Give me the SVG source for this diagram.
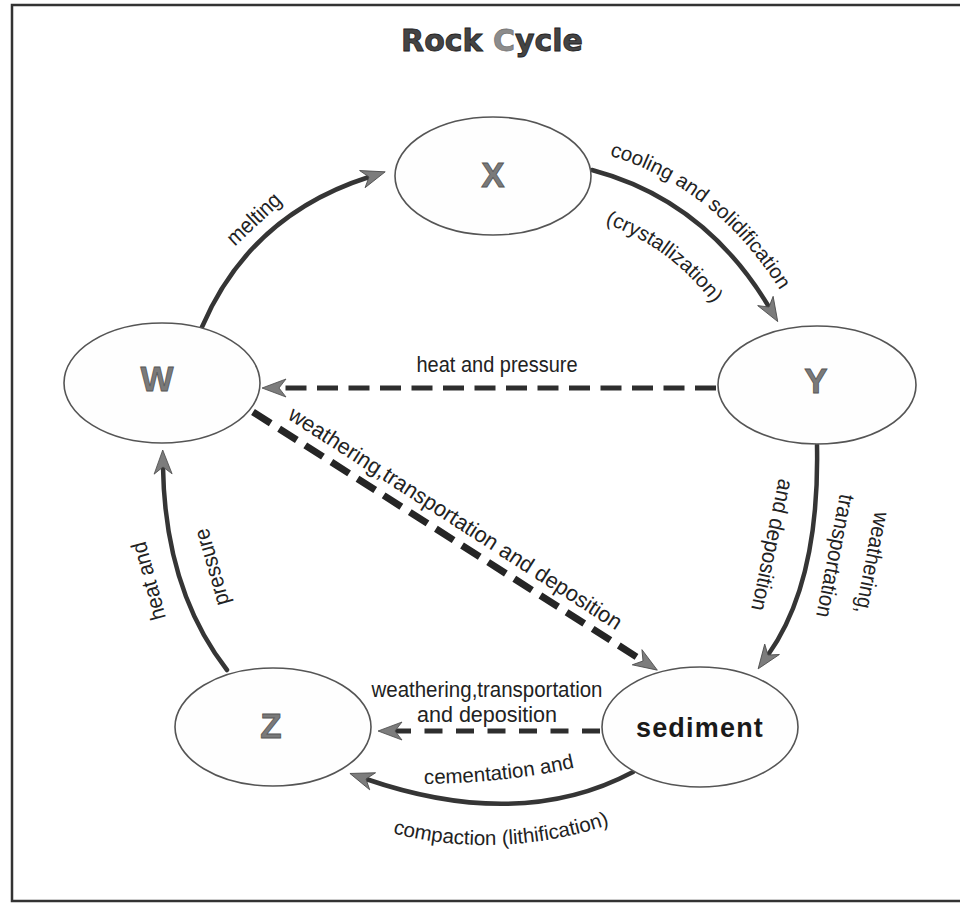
<svg xmlns="http://www.w3.org/2000/svg" width="960" height="903" viewBox="0 0 960 903">
<style>
  .lbl { font-family: "Liberation Sans", Arial, sans-serif; font-size: 22px; fill: #222; }
  .tp { font-family: "Liberation Sans", Arial, sans-serif; font-size: 20.5px; fill: #222; }
  .node { fill: #fefefe; stroke: #555; stroke-width: 1.6; }
  .nl { font-family: "Liberation Sans", Arial, sans-serif; font-weight: bold; font-size: 35px; fill: #7a7a7a; stroke: #555; stroke-width: 0.8; text-anchor: middle; }
  .solid { fill: none; stroke: #353535; stroke-width: 4.5; stroke-linecap: round; marker-end: url(#ah); }
  .dash { fill: none; stroke: #2e2e2e; stroke-width: 5; marker-end: url(#ah); }
  .dashd { fill: none; stroke: #252525; stroke-width: 7; stroke-dasharray: 21 10; marker-end: url(#ah); }
</style>
<defs>
  <marker id="ah" markerUnits="userSpaceOnUse" markerWidth="26" markerHeight="20" refX="7" refY="9" orient="auto" overflow="visible">
    <path d="M0,0 L24,9 L0,18 L7,9 Z" fill="#7c7c7c" stroke="#4a4a4a" stroke-width="0.8"/>
  </marker>
  <path id="tpCool" d="M597,152 Q717,183 786,300"/>
  <path id="tpCrys" d="M580,216 Q682,241 736,339"/>
  <path id="tpCem" d="M424,784 Q510,783 582,766"/>
  <path id="tpComp" d="M388,832 Q500,862 614,823"/>
</defs>
<rect width="960" height="903" fill="#ffffff"/>
<path d="M960,5 L12,5 L12,901 L960,901" fill="none" stroke="#333" stroke-width="2.5"/>

<text x="492" y="51" text-anchor="middle" font-family="DejaVu Sans, Liberation Sans, sans-serif" font-weight="bold" font-size="30" fill="#444" stroke="#222" stroke-width="0.8">Rock <tspan fill="#8c8c8c" stroke="#777">C</tspan>ycle</text>

<g id="connectors">
  <path id="c-melting" class="solid" d="M202,327 Q250,215 369,177"/>
  <path id="c-cooling" class="solid" d="M592,170 Q705,200 769,307"/>
  <path id="c-y-sed" class="solid" d="M817,445 C819,545 800,610 768,655"/>
  <path id="c-cement" class="solid" d="M633,772 Q520,832 366,779"/>
  <path id="c-z-w" class="solid" d="M227,670 Q165,590 163,467"/>
  <path id="c-y-w" class="dash" stroke-dasharray="21 10.5" d="M716,388 L279,388"/>
  <path id="c-w-sed" class="dashd" d="M253,412 L643,661"/>
  <path id="c-sed-z" class="dash" stroke-dasharray="18 13.5" d="M600,731 L395,731"/>
</g>

<g id="node-x">
  <ellipse class="node" cx="493" cy="176" rx="98" ry="59"/>
  <text class="nl" x="493" y="187">X</text>
</g>
<g id="node-w">
  <ellipse class="node" cx="162" cy="383" rx="98" ry="60"/>
  <text class="nl" x="157" y="391">W</text>
</g>
<g id="node-y">
  <ellipse class="node" cx="817" cy="385" rx="99" ry="59"/>
  <text class="nl" x="816" y="393">Y</text>
</g>
<g id="node-z">
  <ellipse class="node" cx="273" cy="727" rx="98" ry="59"/>
  <text class="nl" x="271" y="738">Z</text>
</g>
<g id="node-sediment">
  <ellipse class="node" cx="700" cy="727" rx="98" ry="60"/>
  <text x="700" y="737" text-anchor="middle" font-family="Liberation Sans, Arial, sans-serif" font-weight="bold" font-size="27" letter-spacing="1.2" fill="#1a1a1a">sediment</text>
</g>

<g id="labels">
  <text class="lbl" transform="translate(254,219) rotate(-43)" text-anchor="middle" dy="7" textLength="66" lengthAdjust="spacingAndGlyphs">melting</text>
  <text class="tp"><textPath href="#tpCool" startOffset="13">cooling and solidification</textPath></text>
  <text class="tp"><textPath href="#tpCrys" startOffset="26">(crystallization)</textPath></text>
  <text class="lbl" x="497" y="372" text-anchor="middle" textLength="161" lengthAdjust="spacingAndGlyphs">heat and pressure</text>
  <text class="lbl" transform="translate(455,541) rotate(32.8)" x="-12" y="-12" text-anchor="middle" font-size="23" textLength="392" lengthAdjust="spacingAndGlyphs">weathering,transportation and deposition</text>
  <text class="lbl" transform="translate(872,563) rotate(101)" text-anchor="middle" dy="7" textLength="103" lengthAdjust="spacingAndGlyphs">weathering,</text>
  <text class="lbl" transform="translate(835,556) rotate(101)" text-anchor="middle" dy="7" textLength="125" lengthAdjust="spacingAndGlyphs">transportation</text>
  <text class="lbl" transform="translate(772,545) rotate(102)" text-anchor="middle" dy="7" textLength="134" lengthAdjust="spacingAndGlyphs">and deposition</text>
  <text class="lbl" transform="translate(149,581) rotate(-105)" text-anchor="middle" dy="7" textLength="80" lengthAdjust="spacingAndGlyphs">heat and</text>
  <text class="lbl" transform="translate(212,567) rotate(-106)" text-anchor="middle" dy="7" textLength="79" lengthAdjust="spacingAndGlyphs">pressure</text>
  <text class="lbl" x="487" y="697" text-anchor="middle" textLength="231" lengthAdjust="spacingAndGlyphs">weathering,transportation</text>
  <text class="lbl" x="487" y="722" text-anchor="middle" textLength="140" lengthAdjust="spacingAndGlyphs">and deposition</text>
  <text class="tp"><textPath href="#tpCem" startOffset="0">cementation and</textPath></text>
  <text class="tp" text-anchor="middle"><textPath href="#tpComp" startOffset="50%">compaction (lithification)</textPath></text>
</g>
</svg>
